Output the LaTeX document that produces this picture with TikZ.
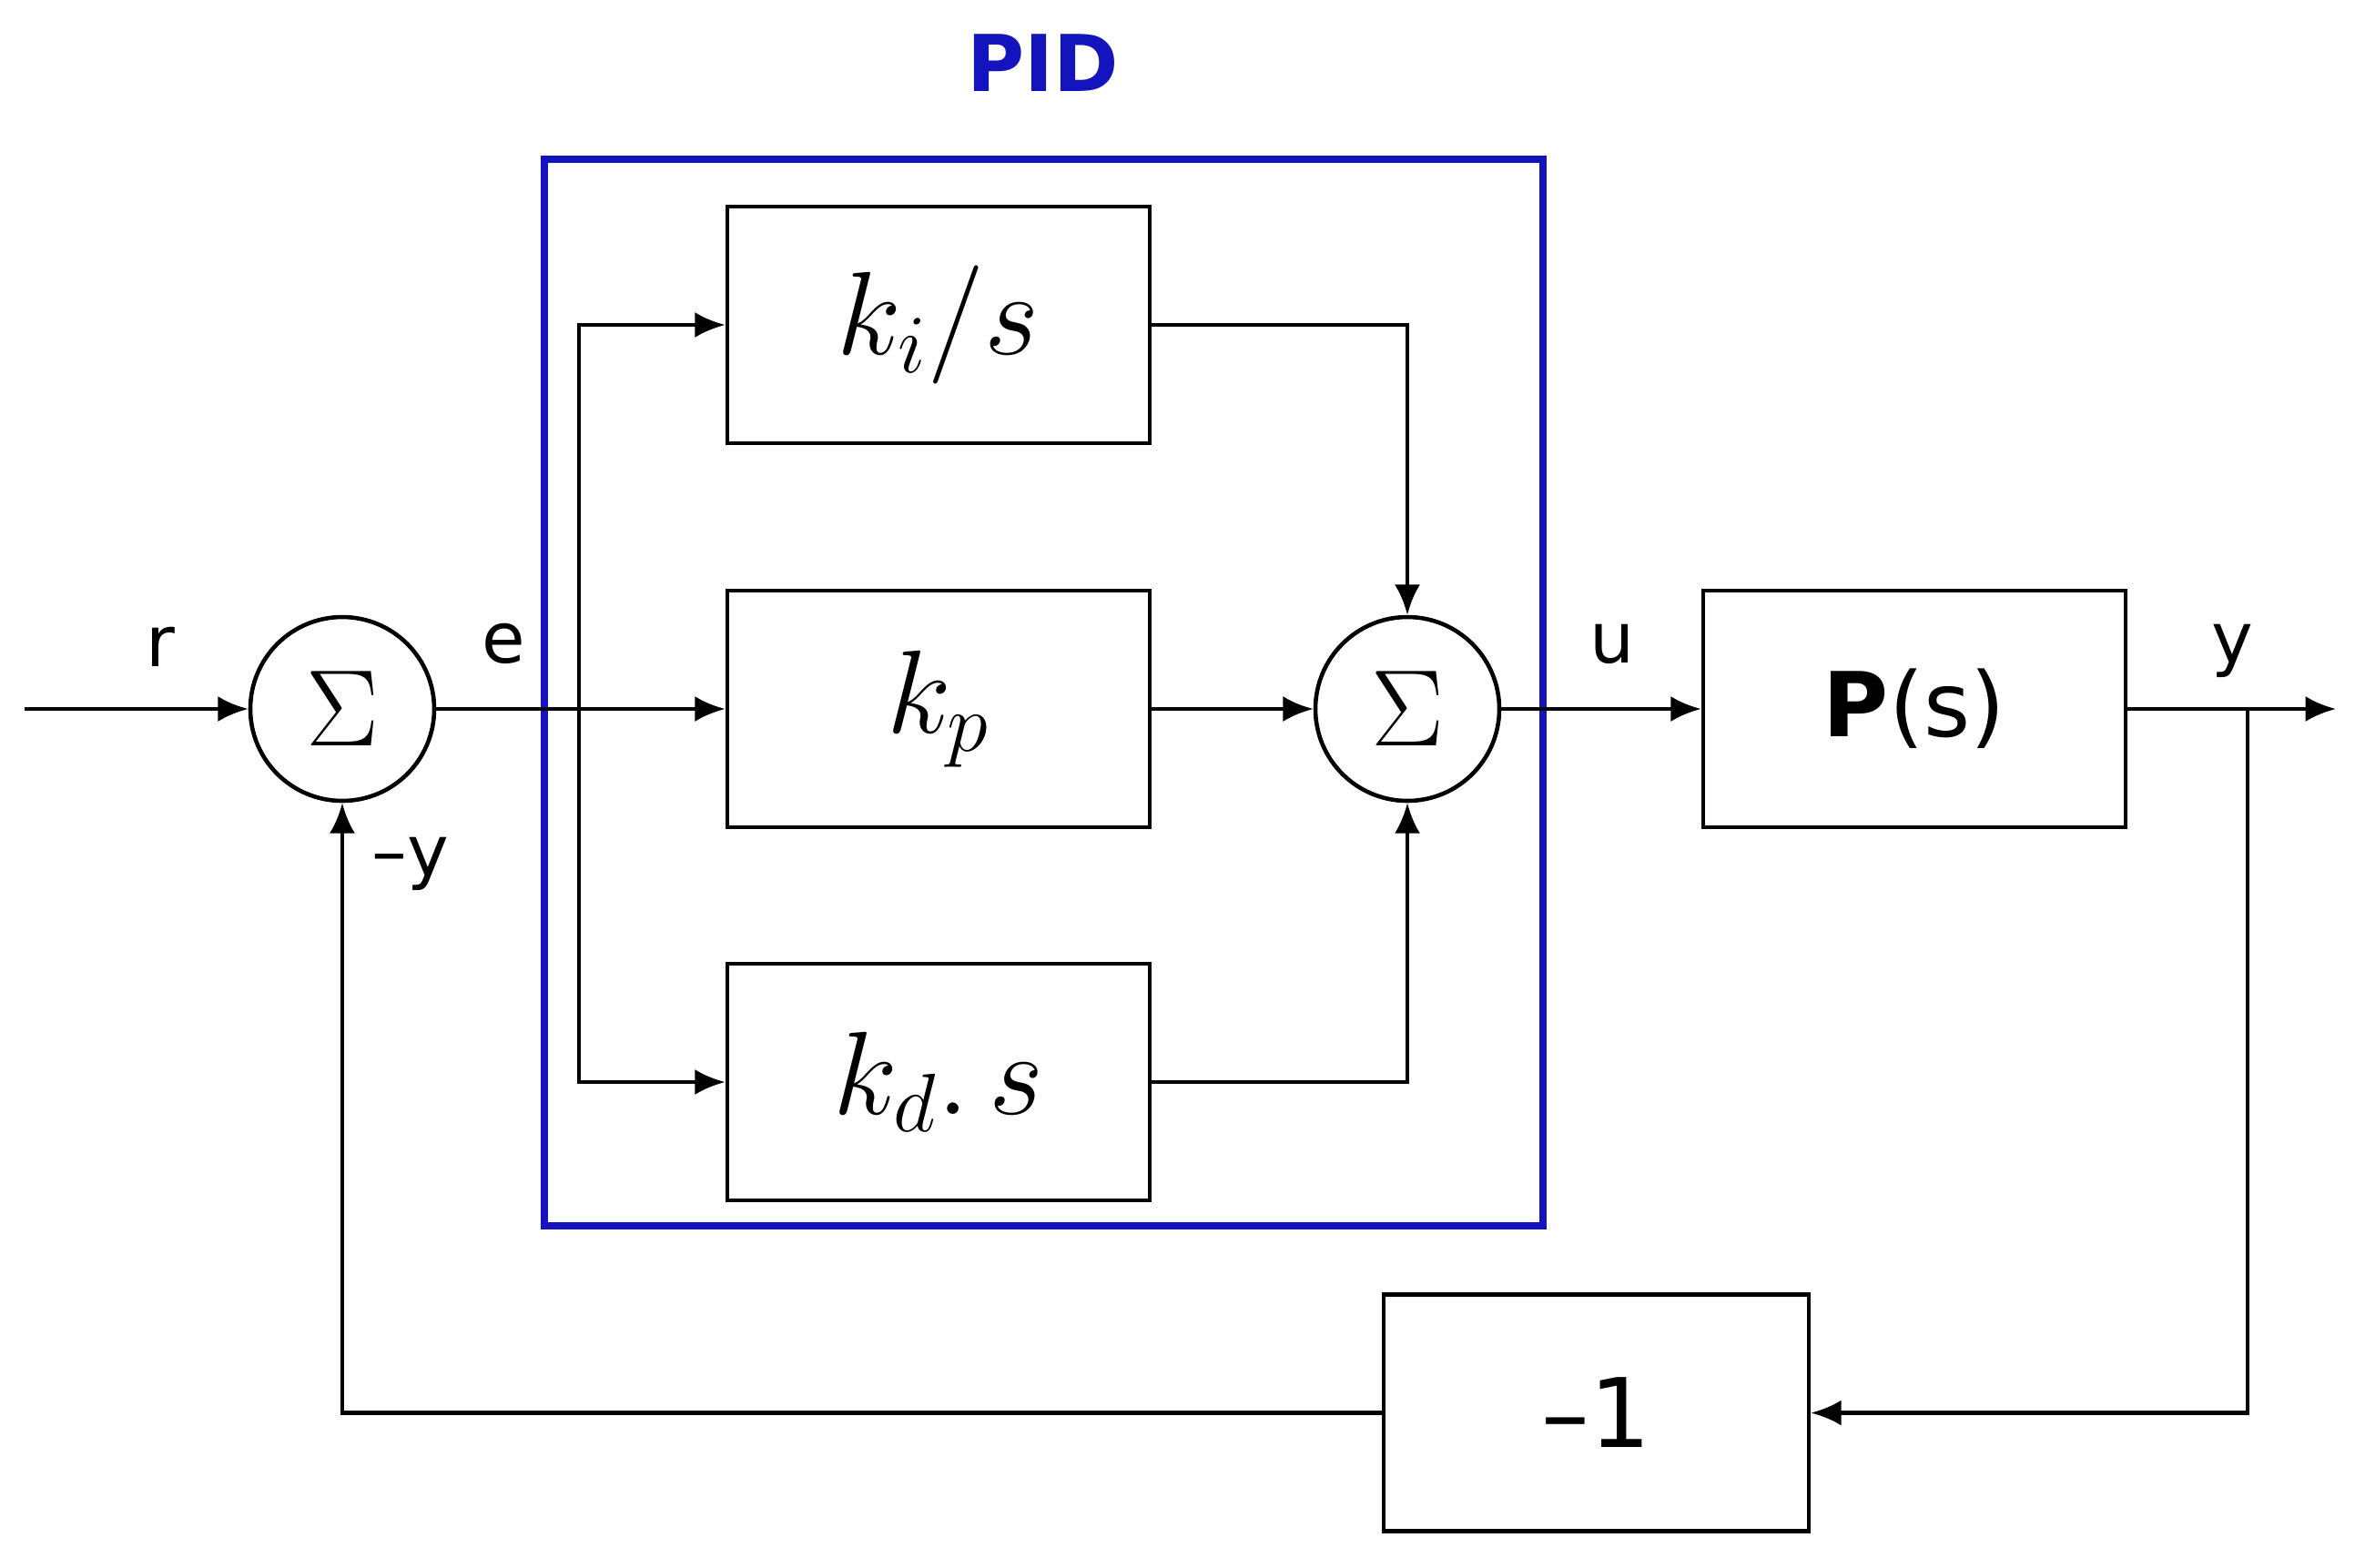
\RequirePackage{fix-cm}
\documentclass[tikz,border=0pt]{standalone}
\usepackage[no-math]{fontspec}
\newfontfamily\lblfont{DejaVu Sans}
\usepackage{tikz}
\usetikzlibrary{arrows.meta}
\usepackage{xcolor}
\definecolor{pidblue}{RGB}{20,20,190}

\begin{document}
\begin{tikzpicture}[
    line width=1.3pt,
    >={Latex[length=9.5pt,width=8pt]},
    block/.style={draw, minimum width=4.64cm, minimum height=2.6cm, inner sep=0pt},
    sumnode/.style={draw, circle, minimum size=2.02cm, inner sep=0pt, font=\fontsize{34}{38}\selectfont},
    gain/.style={font=\fontsize{37}{42}\selectfont},
    sig/.style={font=\lblfont\fontsize{22}{26}\selectfont, inner sep=0pt}
]

    \useasboundingbox (0,0) rectangle (25.87,-17.22);

    % Coordinates for the free ends and branch points
    \coordinate (In) at (0.27,-7.79);      % input r
    \coordinate (Out) at (25.66,-7.79);    % output y
    \coordinate (E) at (6.36,-7.79);       % branch of e
    \coordinate (Y) at (24.69,-7.79);      % branch of y

    % PID frame and its title
    \node[draw=pidblue, line width=2.2pt, minimum width=10.97cm, minimum height=11.72cm] (pidbox) at (11.465,-7.61) {};
    \node[font=\lblfont\bfseries\fontsize{24.5}{28}\selectfont, text=pidblue] (pidlabel) at (11.46,-0.69) {PID};

    % Summing junctions
    \node[sumnode] (S1) at (3.76,-7.79) {$\Sigma$};
    \node[sumnode] (S2) at (15.46,-7.79) {$\Sigma$};

    % Blocks
    \node[block, gain] (Ki) at (10.31,-3.57) {$k_i/s$};
    \node[block, gain] (Kp) at (10.31,-7.79) {$k_p$};
    \node[block, gain] (Kd) at (10.31,-11.89) {$k_d.\,s$};
    \node[block, font=\lblfont\fontsize{28}{32}\selectfont] (P) at (21.03,-7.79) {\textbf{P}(s)};
    \node[block, font=\lblfont\fontsize{30}{34}\selectfont, minimum width=4.67cm] (M1) at (17.535,-15.525) {–1};

    % Signal labels
    \node[sig, anchor=base] (rlabel) at (1.76,-7.32) {r};
    \node[sig, anchor=base] (elabel) at (5.53,-7.28) {e};
    \node[sig, anchor=base] (ulabel) at (17.71,-7.28) {u};
    \node[sig, anchor=base] (ylabel) at (24.52,-7.28) {y};
    \node[sig, anchor=base] (mylabel) at (4.51,-9.62) {–y};

    % Forward path
    \draw[->] (In) -- (S1.west);
    \draw[->] (S1.east) -- (Kp.west);
    \draw[->] (E) |- (Ki.west);
    \draw[->] (E) |- (Kd.west);
    \draw[->] (Ki.east) -| (S2.north);
    \draw[->] (Kp.east) -- (S2.west);
    \draw[->] (Kd.east) -| (S2.south);
    \draw[->] (S2.east) -- (P.west);
    \draw[->] (P.east) -- (Out);

    % Feedback path
    \draw[->] (Y) |- (M1.east);
    \draw[->] (M1.west) -| (S1.south);

\end{tikzpicture}
\end{document}
